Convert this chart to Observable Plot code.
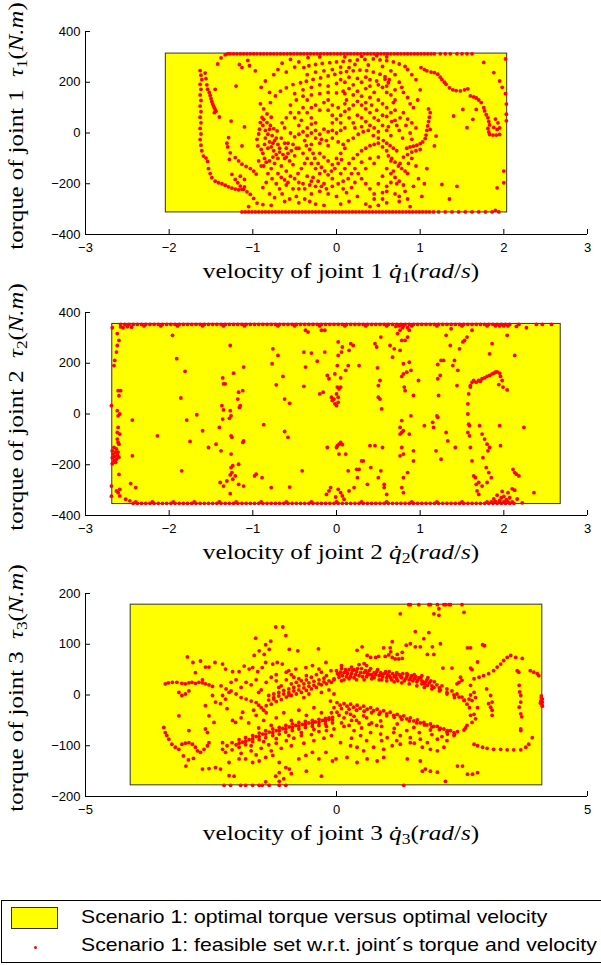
<!DOCTYPE html>
<html><head><meta charset="utf-8">
<script src="https://cdn.jsdelivr.net/npm/d3@7"></script>
<script src="https://cdn.jsdelivr.net/npm/@observablehq/plot@0.6"></script>
<style>
html,body{margin:0;padding:0;background:#fff;}
body{width:601px;height:965px;overflow:hidden;position:relative;font-family:"Liberation Sans",Arial,sans-serif;}
.panel{position:absolute;left:0;width:601px;height:300px;}
.panel svg{position:absolute;left:0;top:0;}
.xlab,.ylab{position:absolute;font-family:"Liberation Serif","DejaVu Serif",serif;font-size:21px;line-height:24px;white-space:nowrap;color:#000;}
.xlab{left:341px;top:259px;transform:translateX(-50%) scaleX(1.2);}
.ylab{left:16px;top:126px;transform:translate(-50%,-50%) rotate(-90deg) scaleX(1.18);}
sub{font-size:70%;vertical-align:-0.25em;line-height:0;}
#legend{position:absolute;left:1px;top:900px;width:640px;height:61px;border:1px solid #000;background:#fff;}
#legend .sw{position:absolute;left:9px;top:6px;width:45px;height:20px;background:#ffff00;border:1px solid #333;}
#legend .dot{position:absolute;left:32px;top:45px;width:3px;height:3px;border-radius:50%;background:#f00;}
#legend .t{position:absolute;left:79px;font-size:19px;white-space:nowrap;color:#000;transform:scaleX(1.115);transform-origin:left center;}
</style>
</head><body>
<div id="p1" class="panel" style="top:0px"></div>
<div id="p2" class="panel" style="top:281px"></div>
<div id="p3" class="panel" style="top:562px"></div>
<div id="legend"></div>
<script>
// ---------- axes / ticks ----------
const velTicks12 = [-3, -2, -1, 0, 1, 2, 3];
const torTicks12 = [-400, -200, 0, 200, 400];
const velTicks3 = [-5, 0, 5];
const torTicks3 = [-200, -100, 0, 100, 200];

// ---------- optimal torque vs optimal velocity (yellow boxes) ----------
const optVel1 = [-2.04, 2.04], optTor1 = [-313, 313];
const optVel2 = [-2.68, 2.68], optTor2 = [-355, 355];
const optVel3 = [-4.10, 4.10], optTor3 = [-178, 178];

// ---------- feasible set, joint 1: [velocity, torque] ----------
const topEdge1Vel = [-1.30,-1.27,-1.23,-1.19,-1.15,-1.11,-1.07,-1.03,-0.99,-0.95,-0.91,-0.87,-0.83,-0.79,-0.75,-0.71,-0.67,-0.63,-0.59,-0.55,-0.51,-0.47,-0.43,-0.39,-0.35,-0.31,-0.27,-0.23,-0.19,-0.15,-0.11,-0.07,-0.03,0.01,0.05,0.09,0.13,0.17,0.21,0.25,0.29,0.33,0.37,0.41,0.45,0.49,0.53,0.57,0.61,0.65,0.69,0.73,0.77,0.81,0.85,0.89,0.93,0.97,1.01,1.05,1.09,1.13,1.17,1.24,1.30,1.36,1.44,1.50,1.56,1.62];
const topEdge1Tor = 312;
const botEdge1Vel = [-1.13,-1.09,-1.05,-1.01,-0.97,-0.93,-0.89,-0.85,-0.81,-0.77,-0.73,-0.69,-0.65,-0.61,-0.57,-0.53,-0.49,-0.45,-0.41,-0.37,-0.33,-0.29,-0.25,-0.21,-0.17,-0.13,-0.09,-0.05,-0.01,0.03,0.07,0.11,0.15,0.19,0.23,0.27,0.31,0.35,0.39,0.43,0.47,0.51,0.55,0.59,0.63,0.67,0.71,0.75,0.79,0.83,0.87,0.91,0.95,0.99,1.03,1.07,1.11,1.16,1.22,1.30,1.38,1.46,1.54,1.62,1.70,1.78,1.86,1.94];
const botEdge1Tor = -311;
const feasible1 = [
[-1.42,272],[-1.38,296],[-1.33,308],
[-1.63,246],[-1.62,228],[-1.61,210],[-1.63,192],[-1.62,172],[-1.63,150],[-1.62,128],[-1.63,106],[-1.62,84],[-1.63,62],[-1.62,40],[-1.63,18],[-1.62,-4],[-1.63,-26],[-1.62,-48],[-1.61,-70],[-1.59,-91],[-1.56,-99],[-1.54,-112],
[-1.57,236],[-1.56,214],[-1.55,190],[-1.54,172],[-1.52,160],[-1.51,148],[-1.50,135],[-1.49,124],[-1.48,114],[-1.47,106],[-1.46,99],[-1.45,92],[-1.44,86],[-1.46,80],
[-1.53,-140],[-1.51,-160],[-1.49,-176],[-1.45,-190],[-1.41,-196],[-1.37,-200],[-1.33,-206],[-1.29,-212],[-1.25,-217],[-1.21,-221],[-1.17,-224],[-1.13,-222],[-1.10,-212],
[-1.45,172],[-1.26,47],[-1.10,24],[-1.13,-51],[-1.40,63],
[-1.29,-18],[-1.31,-40],[-1.30,-55],[-1.27,-78],[-1.28,-104],
[-1.21,-97],[-1.17,-110],[-1.13,-123],[-1.08,-132],[-1.03,-140],[-0.99,-150],[-0.96,-162],
[-1.25,-163],[-1.21,-183],[-1.18,-196],[-1.15,-209],[-1.11,-222],[-1.07,-232],
[-1.15,-170],[-1.10,-183],[-1.03,-242],[-0.99,-258],[-0.95,-276],
[-1.16,270],[-1.13,258],[-1.06,286],[-1.04,265],[-0.97,245],[-1.20,185],[-1.05,-290],[-0.88,-282],[-0.78,-285],
[1.01,258],[1.05,250],[1.08,245],[1.13,240],[1.17,238],[1.21,232],[1.24,220],[1.26,210],[1.29,200],[1.31,192],[1.35,178],[1.39,170],[1.43,167],[1.48,166],[1.53,170],[1.57,174],
[1.60,146],[1.64,142],[1.67,138],[1.70,130],[1.73,120],[1.76,100],[1.77,87],[1.79,72],[1.81,60],[1.82,45],[1.83,32],[1.81,18],[1.82,4],[1.83,-6],[1.87,-8],[1.91,-8],[1.95,-6],[1.88,22],[1.92,14],[1.95,20],[1.93,40],[1.90,55],
[1.95,205],[1.98,180],[2.02,155],[2.03,114],[2.03,74],[2.03,48],[2.02,292],[1.88,238],[1.76,278],[1.67,93],[1.63,54],[1.56,21],[1.40,67],[1.51,93],[2.00,-150],[2.00,-196],[1.92,-216],[1.26,-203],[1.19,-12],[1.12,14],[1.17,-51],[1.44,-210],[1.35,-260],[1.90,-305],
[1.10,95],[1.12,80],[1.11,62],[1.10,45],[1.09,28],[1.08,10],[1.07,-8],[1.06,-22],[1.03,-35],[1.00,-42],[0.96,-48],[0.92,-52],[0.88,-55],[0.84,-60],
[0.95,210],[0.90,230],[0.85,250],[1.00,170],[0.97,130],[0.92,100],[0.88,115],[0.85,140],[0.80,160],[0.78,180],[0.90,-100],[0.95,-130],[0.85,-160],[0.98,-180],[0.92,-210],[0.82,-230],[1.02,-250],[0.75,-270],[0.88,-290],[1.05,-200],[1.08,-140],[0.72,-200],[0.68,-150],[0.76,-120],[0.80,-95],[0.72,-70],[0.79,-20],[0.75,10],[0.83,30],[0.76,60],[0.70,90],[0.80,80],[0.70,130],
[-0.79,120],[-0.73,146],[-0.67,165],[-0.60,178],[-0.52,191],[-0.43,198],[-0.36,204],[-0.28,211],[-0.19,217],[-0.10,225],[-0.02,231],[0.05,238],[0.12,242],[0.20,245],[0.28,248],[0.36,246],[0.44,240],[0.52,232],[0.58,222],[0.63,210],
[-0.39,258],[-0.33,265],[-0.25,270],[-0.17,274],[-0.08,277],[0.00,280],[0.08,282],[0.16,285],[0.25,288],[0.34,290],[0.44,292],[0.52,288],[0.60,285],[0.68,280],[0.75,272],[0.82,262],
[-0.34,297],[-0.20,300],[0.10,300],[0.30,302],[0.48,304],[0.60,300],[0.22,270],[0.38,268],[0.55,262],
[0.48,205],[0.50,190],[0.55,180],[0.60,185],[0.62,198],[0.58,212],
[-0.55,110],[-0.48,130],[-0.40,145],[-0.30,150],[-0.20,155],[-0.10,160],[0.00,158],[0.10,155],[0.20,150],[0.30,145],[0.40,140],[0.50,130],[0.55,115],[0.60,100],
[-0.91,115],[-0.87,95],[-0.83,75],[-0.78,62],
[-0.89,61],[-0.91,41],[-0.92,15],[-0.93,-4],[-0.95,-25],[-0.94,-51],
[-0.87,54],[-0.83,41],[-0.79,30],[-0.75,17],[-0.71,8],
[-0.85,-20],[-0.80,-35],[-0.78,-55],[-0.75,-70],[-0.72,-85],[-0.70,-100],[-0.74,-120],[-0.78,-140],[-0.82,-160],[-0.77,-180],[-0.72,-200],[-0.68,-220],[-0.65,-240],
[-0.88,-80],[-0.86,-100],[-0.84,-115],[-0.90,-130],[-0.93,-110],
[-0.66,-20],[-0.62,-40],[-0.60,-60],[-0.58,-80],[-0.62,-100],[-0.66,-130],[-0.60,-150],[-0.55,-170],[-0.58,-195],[-0.52,-220],[-0.56,-260],
[-0.65,40],[-0.60,60],[-0.55,80],[-0.62,20],[-0.55,0],[-0.50,-15],
[-0.45,-5],[-0.40,5],[-0.35,-10],[-0.30,0],[-0.25,10],[-0.20,-5],[-0.15,15],[-0.10,5],[-0.05,10],[0.00,0],[0.05,10],[0.10,20],
[-0.05,40],[0.00,55],[0.05,70],[0.10,85],[0.15,95],[0.20,110],[0.25,70],[0.30,60],[0.35,45],[0.40,30],[0.45,20],[0.50,5],
[0.15,60],[0.20,40],[0.22,20],[0.30,25],
[-0.45,-60],[-0.40,-80],[-0.35,-100],[-0.30,-120],[-0.25,-140],[-0.20,-160],[-0.35,-170],[-0.30,-190],[-0.25,-210],[-0.40,-200],[-0.45,-220],[-0.20,-230],[-0.10,-240],[0.00,-250],[-0.30,-240],[-0.15,-200],[-0.05,-180],[0.05,-160],[0.10,-140],[0.15,-120],[0.20,-100],[0.25,-85],[0.30,-70],[0.35,-60],[0.40,-50],[0.45,-45],[0.50,-40],[0.55,-55],[0.60,-70],
[-0.20,-80],[-0.15,-95],[-0.10,-110],[-0.05,-125],[0.00,-100],[0.05,-80],[0.10,-60],[-0.10,-50],[-0.20,-40],[-0.30,-45],
[0.30,-180],[0.35,-200],[0.40,-220],[0.45,-240],[0.50,-200],[0.55,-170],[0.60,-140],[0.65,-110],[0.25,-250],[0.15,-270],[0.05,-280],[-0.15,-285],[0.35,-280],[0.55,-260],[0.60,-230],
[0.40,-100],[0.45,-120],[0.50,-95],[0.35,-140],[0.30,-115],
[0.50,50],[0.55,30],[0.60,10],[0.65,-10],[0.55,70],[0.48,90],[0.42,110],[0.35,120],[0.25,125],
[-0.30,60],[-0.35,80],[-0.40,100],[-0.25,40],[-0.20,90],[-0.15,120],[-0.10,90],
[-0.88,30],[-0.85,10],[-0.82,-5],[-0.80,15],[-0.77,-10],[-0.74,-30],[-0.70,-45],[-0.68,-60],[-0.72,-20],[-0.76,-40],[-0.82,-60],[-0.86,-45],[-0.90,-65],[-0.87,-130],[-0.80,-110],[-0.76,-95],[-0.68,-75],[-0.64,-85],[-0.60,-95],[-0.56,-110],[-0.52,-125],[-0.50,-90],[-0.54,-70],[-0.58,-40],[-0.52,-45],[-0.48,-60],[-0.70,-160],[-0.66,-175],[-0.62,-185],[-0.60,-205],[-0.84,-195],[-0.88,-215],[-0.80,-240],[-0.74,-255],[-0.62,-270],[-0.48,-250],[-0.45,-275],[-0.38,-260],[-0.32,-270],[-0.25,-280],
[-0.45,30],[-0.42,50],[-0.38,-30],[-0.36,-50],[-0.32,-65],[-0.28,-80],[-0.26,-100],[-0.22,-120],[-0.18,-135],[-0.14,-150],[-0.10,-165],[-0.06,-150],[-0.02,-140],[0.02,-120],[0.06,-105],[-0.38,-120],[-0.42,-140],[-0.46,-160],[-0.50,-180],[-0.45,-195],[-0.38,-220],[-0.32,-205],[-0.28,-175],[-0.22,-190],[-0.18,-210],[-0.12,-220],[-0.05,-210],[0.02,-200],[0.08,-220],[0.12,-235],[0.18,-215],[0.22,-195],[0.26,-160],[0.22,-140],[0.18,-160],[0.14,-180],[0.08,-190],
[-0.35,20],[-0.30,35],[-0.25,-20],[-0.18,-25],[-0.12,-30],[-0.05,-20],[0.02,-35],[0.08,-45],[0.14,-30],[0.20,-20],[0.26,-5],[0.32,5],[0.38,10],[0.44,-10],[0.50,-20],[0.56,-30],[0.60,-40],[0.64,-50],[0.68,-60],
[0.05,40],[0.10,115],[0.12,130],[0.02,100],[-0.05,110],[-0.10,130],[-0.25,110],[-0.30,100],[-0.35,130],[-0.45,80],[-0.50,60],[-0.05,70],[0.08,165],[0.15,175],[0.20,190],[0.30,200],[0.35,175],[0.40,185],[0.45,160],[0.25,165],[0.30,110],[0.40,80],[0.45,60],[0.35,95],
[0.62,-90],[0.66,-100],[0.70,-115],[0.74,-130],[0.78,-140],[0.82,-150],[0.86,-120],[0.90,-75],[0.85,-85],[0.95,-70],[1.00,-65],[0.65,-160],[0.70,-175],[0.75,-190],[0.80,-205],[0.65,-195],[0.60,-210],[0.55,-235],[0.45,-260],[0.70,-240],[0.75,-250],[0.85,-260],[0.60,-275],[0.50,-285],[0.40,-290],
[0.62,25],[0.66,45],[0.60,65],[0.65,80],[0.70,50],[0.72,30],[0.85,55],[0.90,40],[0.95,20],[0.88,0],[0.90,-25],[0.68,120],[0.65,150],[0.70,170],[0.60,160],[0.75,200],[0.70,230],[0.65,245],
[-0.70,250],[-0.60,240],[-0.50,260],[-0.45,280],[-0.55,290],[-0.65,275],[-0.75,230],[-0.85,205],[-0.80,160],[-0.90,180],[-0.35,230],[-0.25,240],[-0.15,245],[-0.05,250],[0.05,260],[0.15,258],[-0.20,190],[-0.10,185],[0.00,195],[0.10,200],[-0.30,180],[-0.40,170],[-0.50,155],[0.25,215],[0.35,220],[0.40,210],[0.15,220],[0.05,210]
];

// ---------- feasible set, joint 2 ----------
const topEdge2Vel = [-2.58,-2.53,-2.48,-2.43,-2.38,-2.33,-2.28,-2.23,-2.18,-2.13,-2.08,-2.03,-1.98,-1.93,-1.88,-1.83,-1.78,-1.73,-1.68,-1.63,-1.58,-1.53,-1.48,-1.43,-1.38,-1.33,-1.28,-1.23,-1.18,-1.13,-1.08,-1.03,-0.98,-0.93,-0.88,-0.83,-0.78,-0.73,-0.68,-0.63,-0.58,-0.53,-0.48,-0.43,-0.38,-0.33,-0.28,-0.23,-0.18,-0.13,-0.08,-0.03,0.02,0.07,0.12,0.17,0.22,0.27,0.32,0.37,0.42,0.47,0.52,0.57,0.62,0.67,0.72,0.77,0.82,0.87,0.92,0.97,1.02,1.07,1.12,1.17,1.22,1.27,1.32,1.37,1.42,1.47,1.52,1.57,1.62,1.67,1.72,1.77,1.82,1.87,1.92,1.97,2.02,2.07,2.18,2.39,2.46,2.57];
const topEdge2Tor = 353;
const topRow2Vel = [-2.50,-2.30,-2.10,-1.90,-1.60,-1.35,-1.10,-0.70,-0.50,-0.20,0.10,0.35,0.60,0.75,0.80,0.90,1.20,1.50,1.80,1.90,1.95,2.00,2.05];
const topRow2Tor = 347;
const botEdge2Vel = [-2.43,-2.38,-2.33,-2.28,-2.23,-2.18,-2.13,-2.08,-2.03,-1.98,-1.93,-1.88,-1.83,-1.78,-1.73,-1.68,-1.63,-1.58,-1.53,-1.48,-1.43,-1.38,-1.33,-1.28,-1.23,-1.18,-1.13,-1.08,-1.03,-0.98,-0.93,-0.88,-0.83,-0.78,-0.73,-0.68,-0.63,-0.58,-0.53,-0.48,-0.43,-0.38,-0.33,-0.28,-0.23,-0.18,-0.13,-0.08,-0.03,0.02,0.07,0.12,0.17,0.22,0.27,0.32,0.37,0.42,0.47,0.52,0.57,0.62,0.67,0.72,0.77,0.82,0.87,0.92,0.97,1.02,1.07,1.12,1.17,1.22,1.27,1.32,1.37,1.42,1.47,1.52,1.57,1.62,1.67,1.72,1.77,1.82,1.87,1.92,1.97,2.02,2.07,2.12];
const botEdge2Tor = -352;
const botRow2Vel = [-2.40,-2.20,-1.95,-1.70,-1.40,-1.20,-0.90,-0.60,-0.30,0.00,0.30,0.60,0.90,1.20,1.50,1.80,1.85,1.90,1.95,2.00,2.05,2.10];
const botRow2Tor = -346;
const feasible2 = [
[-2.58,343],[-2.55,340],[-2.50,344],[-2.45,342],[-2.62,317],[-2.60,290],[-2.62,270],[-2.63,244],[-2.65,211],[-2.66,191],[-2.68,340],
[-2.61,92],[-2.58,92],[-2.60,72],[-2.69,33],[-2.62,13],[-2.59,0],[-2.61,-7],
[-2.61,-53],[-2.62,-73],[-2.59,-79],[-2.62,-99],[-2.61,-112],[-2.60,-119],
[-2.66,-132],[-2.63,-138],[-2.68,-145],[-2.64,-150],[-2.67,-158],[-2.62,-162],[-2.65,-168],[-2.68,-172],[-2.63,-178],[-2.66,-184],[-2.64,-191],[-2.68,-196],[-2.61,-150],[-2.60,-170],
[-2.60,-238],[-2.69,-284],[-2.59,-297],[-2.61,-310],[-2.69,-324],
[-2.63,-303],[-2.59,-323],[-2.52,-336],[-2.47,-342],
[-1.96,310],[-1.91,218],[-1.81,168],[-1.86,63],[-1.79,-24],[-1.67,-3],[-1.75,-108],[-1.85,-224],[-2.14,-86],[-2.44,-24],[-2.44,-165],[-2.46,-274],[-2.40,-290],
[-1.27,270],[-1.36,142],[-1.35,119],[-1.33,119],[-1.37,33],[-1.35,16],[-1.36,-20],[-1.40,-53],[-1.44,-119],[-1.38,-145],[-1.28,-17],[-1.26,-7],[-1.27,13],[-1.25,-92],[-1.26,-86],[-1.26,-158],[-1.24,-204],[-1.26,-211],[-1.25,-231],[-1.27,-240],[-1.21,-244],[-1.24,-257],[-1.31,-264],[-1.39,-270],[-1.35,-284],[-1.27,-314],[-1.17,-198],[-1.17,-277],[-1.11,-284],[-1.23,161],[-1.18,59],[-1.17,86],[-1.12,92],[-1.15,33],[-1.16,26],[-1.11,-106],[-1.12,-112],[-1.11,185],[-1.53,-132],[-1.60,-66],
[-0.98,-244],[-0.96,-237],[-0.89,-251],[-0.87,-42],[-0.76,257],[-0.70,231],[-0.77,198],[-0.72,115],[-0.78,-290],[-0.62,59],[-0.56,42],[-0.62,-69],[-0.58,-92],[-0.56,-288],[-0.64,148],
[-0.41,-224],[-0.39,109],[-0.37,185],[-0.39,244],[-0.34,323],[-0.37,330],[-0.30,240],[-0.23,208],[-0.20,79],[-0.16,86],[-0.14,330],[-0.14,244],[-0.11,152],[-0.09,139],[-0.11,-132],[-0.12,-317],[-0.09,-303],[-0.07,-290],[-0.18,330],
[-0.06,66],[-0.05,53],[-0.03,59],[-0.02,40],[0.00,33],[0.02,46],[0.02,66],[0.00,79],[0.03,99],[0.01,106],[0.05,106],[-0.02,158],[0.05,142],[0.01,191],[0.02,231],[0.06,244],[0.07,264],[0.02,284],
[0.03,-119],[0.01,-125],[0.07,-121],[0.05,-112],[0.00,-132],[0.03,-158],[0.11,-158],[0.14,-224],[0.02,-297],[0.05,-310],[0.07,-323],[-0.01,-327],[0.09,-336],[0.15,-303],[0.21,-290],
[0.11,172],[0.14,191],[0.17,277],[0.15,251],[0.20,270],[0.27,191],[0.30,-185],[0.32,-185],[0.27,-218],[0.24,-218],[0.25,-251],[0.37,-277],[0.40,-125],[0.46,-125],[0.41,-211],
[0.46,277],[0.48,264],[0.49,182],[0.50,112],[0.52,132],[0.50,66],[0.52,59],[0.54,20],[0.55,-132],[0.53,-224],[0.50,-251],[0.57,-290],[0.60,-317],[0.57,-277],[0.53,303],[0.64,270],[0.69,257],
[0.78,-290],[0.80,-251],[0.80,-310],[0.76,251],[0.67,224],[0.73,317],[0.76,330],[0.71,345],[0.79,340],[0.85,340],[0.87,330],[0.78,290],[0.82,290],[0.85,303],[0.80,198],[0.78,148],[0.80,158],[0.84,165],[0.81,106],[0.82,92],
[0.78,-26],[0.76,-53],[0.78,-73],[0.80,-66],[0.76,-79],[0.78,-132],[0.80,-158],[0.76,-165],[0.87,-79],[0.89,-7],[0.87,204],[0.89,172],[0.92,-145],[0.92,-185],[0.85,-231],[0.92,73],[0.98,132],
[1.05,-46],[1.15,-33],[1.16,-53],[1.19,-145],[1.25,-178],[1.21,139],[1.24,152],[1.21,195],[1.25,211],[1.28,211],[1.20,-7],[1.21,-13],[1.22,73],[1.31,310],[1.37,336],[1.36,270],[1.39,191],[1.41,211],[1.44,112],[1.31,-73],[1.33,-106],[1.42,-132],[1.45,172],[1.47,257],[1.51,284],[1.53,290],[1.56,303],[1.62,330],
[1.60,106],[1.58,79],[1.57,40],[1.57,0],[1.58,-40],[1.59,-46],[1.57,-73],[1.59,-86],[1.60,-132],[1.62,-185],[1.64,-244],[1.66,-251],[1.67,-277],[1.70,-270],[1.68,-303],[1.70,-317],[1.74,-284],
[1.60,112],[1.62,125],[1.64,132],[1.67,125],[1.70,132],[1.72,129],[1.74,139],[1.77,142],[1.80,148],[1.83,152],[1.86,158],[1.88,161],[1.90,165],[1.92,166],[1.95,161],[1.96,148],[1.98,132],[1.99,106],[1.94,116],
[1.71,-46],[1.74,-79],[1.77,-99],[1.80,-119],[1.81,-145],[1.83,-132],[1.75,-172],[1.79,-211],[1.82,-231],[1.85,-251],[1.80,-270],[1.83,237],[1.86,277],[1.95,-46],[1.96,-125],[2.04,95],[2.04,310],[2.13,231],[2.24,-53],[2.11,-218],[2.13,-231],[2.15,-237],[2.18,-244],[2.36,-310],[2.15,345],[2.27,340],
[1.88,-335],[1.92,-320],[1.95,-340],[1.98,-305],[2.00,-325],[2.02,-345],[2.05,-310],[2.07,-330],[2.10,-295],[2.13,-300],[2.16,-335],[2.22,-350],[1.90,-345],[1.97,-330],[2.03,-338]
];

// ---------- feasible set, joint 3 ----------
const topEdge3Vel = [1.44,1.47,1.64,1.84,1.87,2.01,2.14,2.17,2.24,2.27,2.50];
const topEdge3Tor = 178;
const botEdge3Vel = [-2.24,-2.11,-1.91,-1.81,-1.67,-1.54,-1.48,-1.34,-1.14,-1.01,1.34];
const botEdge3Tor = -178;
const feasible3 = [
[-3.41,22],[-3.35,24],[-3.27,25],[-3.18,25],[-3.08,23],[-3.01,22],[-2.94,24],[-2.88,25],[-2.81,23],[-2.74,25],[-2.67,24],[-2.61,22],[-2.54,20],[-2.47,17],
[-3.14,5],[-3.08,-1],[-3.01,2],[-2.94,8],
[-3.44,-64],[-3.41,-74],[-3.38,-80],[-3.34,-87],[-3.28,-97],[-3.21,-103],[-3.14,-107],[-3.08,-97],[-3.01,-95],[-2.94,-94],[-2.87,-97],[-2.81,-103],[-2.77,-110],[-2.71,-113],[-2.64,-107],[-2.57,-100],[-2.54,-94],
[-3.05,-120],[-2.95,-128],[-2.85,-125],[-3.00,-140],[-2.67,-146],[-2.54,-145],[-2.41,-143],[-2.31,-146],[-2.14,-159],[-2.04,-160],[-2.14,-133],[-1.94,-126],[-1.81,-126],[-1.67,-133],[-1.54,-130],[-1.41,-123],[-1.27,-119],[-1.14,-133],[-1.01,-143],[-1.14,-153],[-0.94,-146],[-0.75,-126],[-0.61,-119],[-0.48,-113],[-0.35,-126],[-0.21,-113],[-0.08,-130],
[-3.14,-41],[-2.94,-70],[-2.61,-21],[-2.54,-41],[-2.41,-14],[-2.31,-17],[-2.21,-8],[-2.27,-1],[-2.14,5],[-2.47,-1],[-2.18,-27],[-2.07,-50],[-2.01,-54],[-1.87,-34],[-2.61,-67],[-2.57,-74],[-2.44,-54],[-2.27,-94],
[-1.21,134],[-1.61,112],[-1.31,106],[-1.41,99],[-1.01,117],[-0.36,91],[-1.64,78],[-1.54,87],[-1.44,80],[-1.34,90],[-0.94,90],[-0.77,87],[-2.97,75],[-2.86,64],[-2.71,67],[-2.61,55],[-2.54,55],[-2.42,64],[-2.27,61],[-2.21,51],[-2.07,46],[-1.94,46],[-1.84,57],[-1.74,51],[-1.67,54],[-1.57,46],[-1.48,54],[-1.41,64],[-1.27,61],[-1.18,64],[-1.08,61],[-0.95,48],[-0.81,51],[-0.75,32],[-0.61,54],[-0.48,58],[-0.35,51],[-0.21,64],[-0.11,48],[-2.81,44],[-2.67,30],[-1.07,134],
[-2.30,18],[-2.20,12],[-2.10,8],[-2.00,2],[-1.90,-5],[-1.80,-8],[-1.70,-12],[-1.60,-15],[-1.55,-20],[-1.50,-25],[-1.45,-30],[-1.40,-21],[-1.30,-18],[-1.20,-13],[-1.10,-9],[-1.00,-4],[-0.90,-1],[-0.80,2],[-0.70,5],[-0.60,9],[-0.50,12],[-0.40,15],[-0.30,20],[-0.20,22],[-0.10,25],
[-1.35,-1],[-1.25,2],[-1.15,5],[-1.05,9],[-0.95,12],[-0.85,15],[-0.75,18],[-0.65,22],[-0.55,24],[-0.45,27],[-0.35,30],[-0.25,33],
[-1.50,10],[-1.40,25],[-1.30,35],[-1.20,28],[-1.10,18],[-1.00,30],[-0.90,22],[-0.85,35],[-0.70,28],[-0.60,38],[-0.50,35],[-1.60,30],[-1.70,20],[-1.80,25],[-1.90,15],[-2.00,30],[-2.10,25],[-1.55,5],[-1.25,-8],[-1.15,15],[-0.95,0],[-0.65,-5],[-0.55,2],[-0.30,5],[-0.15,10],[-0.05,2],
[-0.95,5],[-0.85,8],[-0.75,10],[-0.65,14],[-0.55,17],[-0.45,19],[-0.35,22],[-0.25,26],[-0.15,28],[-0.05,32],[-1.05,2],[-1.15,-2],[-1.25,-5],[-1.35,-10],[-0.80,25],[-0.60,30],[-0.40,40],[-0.20,38],[-0.30,45],[-1.00,45],[-1.20,40],[-0.90,40],
[-1.90,-45],[-1.75,-55],[-1.60,-40],[-1.45,-50],[-1.30,-60],[-1.20,-45],[-1.05,-35],[-0.90,-50],[-0.75,-30],[-0.60,-40],[-0.45,-25],[-0.30,-35],[-0.15,-45],[-1.55,-65],[-1.65,-30],[-1.40,-35],
[-2.27,-107],[-2.18,-100],[-2.08,-94],[-1.94,-88],[-1.81,-84],[-1.67,-80],[-1.54,-75],[-1.41,-70],[-1.27,-67],[-1.14,-64],[-1.01,-60],[-0.88,-57],[-0.75,-54],[-0.62,-52],[-0.48,-50],[-0.35,-48],[-0.22,-46],[-0.08,-44],
[-2.21,-113],[-2.08,-108],[-1.94,-103],[-1.81,-98],[-1.67,-92],[-1.54,-88],[-1.41,-84],[-1.27,-80],[-1.14,-77],[-1.01,-73],[-0.88,-70],[-0.75,-67],[-0.62,-64],[-0.48,-62],[-0.35,-60],[-0.22,-57],[-0.08,-55],
[-2.00,-98],[-1.87,-93],[-1.74,-88],[-1.60,-82],[-1.47,-77],[-1.34,-73],[-1.20,-70],[-1.07,-66],[-0.94,-63],[-0.81,-60],[-0.68,-58],[-0.55,-55],[-0.42,-53],[-0.28,-50],[-0.15,-48],
[-1.94,-95],[-1.81,-91],[-1.67,-86],[-1.54,-82],[-1.41,-77],[-1.27,-74],[-1.14,-70],[-1.01,-67],[-0.88,-64],[-0.75,-61],[-0.62,-58],[-0.48,-56],[-0.35,-54],[-0.22,-51],[-0.08,-49],[-1.70,-100],[-1.45,-92],[-1.20,-86],[-0.95,-80],[-0.70,-74],[-0.45,-68],[-0.20,-62],
[-1.90,-115],[-1.70,-110],[-1.50,-105],[-1.35,-98],[-1.20,-95],[-1.00,-90],[-0.85,-85],[-0.70,-80],[-0.50,-78],[-0.35,-72],[-0.20,-70],[-1.60,-118],[-1.30,-110],[-1.10,-105],[-0.90,-100],[-0.65,-95],[-0.45,-90],[-0.25,-85],[-0.10,-80],
[-1.41,-171],[-1.14,-170],[-1.21,-160],[-1.05,-165],[-0.90,-155],[-0.60,-150],[-0.30,-160],
[1.27,160],[1.94,160],[2.04,157],[2.04,170],[2.54,163],
[1.57,125],[1.84,123],[1.11,105],[1.74,111],[1.47,101],[1.57,95],[1.67,95],[1.91,95],[2.07,101],[0.41,88],[0.51,95],[0.94,93],[1.07,93],[1.08,85],[1.21,80],[1.31,84],[1.39,98],[1.81,80],[1.94,80],[2.61,93],[2.67,93],[2.91,99],[2.95,97],[0.61,78],[0.68,74],[0.78,74],[0.84,76],[0.97,76],[1.04,79],[1.11,74],[1.17,71],[1.24,71],[1.31,72],[2.12,53],[2.30,53],[2.67,53],[2.70,50],[2.81,65],
[0.00,48],[0.05,40],[0.10,52],[0.15,44],[0.20,36],[0.25,50],[0.30,42],[0.35,34],[0.40,46],[0.45,38],[0.50,52],[0.55,44],[0.60,36],[0.65,48],[0.70,40],[0.75,34],[0.80,46],[0.85,38],[0.90,30],[0.95,42],[1.00,34],[1.05,38],[1.10,30],[1.15,36],[1.20,32],[1.25,40],[1.30,34],[1.35,28],[1.40,36],[1.45,30],[1.50,38],[1.55,32],[1.60,26],[1.65,34],[1.70,28],[1.75,22],[1.80,30],[1.85,24],[1.90,18],[1.95,26],[2.00,20],[2.05,14],[2.10,18],[2.20,12],[2.30,8],[2.40,2],[2.50,-4],[2.55,-10],
[0.02,42],[0.08,45],[0.12,38],[0.18,50],[0.22,42],[0.28,36],[0.32,48],[0.38,40],[0.42,52],[0.48,44],[0.52,36],[0.58,48],[0.62,42],[0.68,52],[0.72,36],[0.78,40],[0.82,50],[0.88,44],[0.92,36],[0.98,46],[1.02,40],[1.08,34],[1.12,42],[1.18,38],[1.22,28],[1.28,36],[1.32,42],[1.38,32],[1.42,40],[1.48,34],[1.52,28],[1.58,36],[1.62,30],[1.68,34],[1.72,26],[1.78,26],[1.82,34],[1.88,28],
[-0.05,30],[0.10,28],[0.25,32],[0.40,30],[0.55,30],[0.70,32],[0.85,30],[1.00,28],[1.15,26],[1.30,24],[1.45,22],[1.60,18],[1.75,15],[1.90,12],[2.05,8],[2.20,2],[2.35,-5],
[0.10,58],[0.30,55],[0.45,60],[0.60,58],[0.55,62],[0.20,45],[0.35,50],[0.65,40],[0.75,44],[0.90,40],[1.05,46],[1.20,44],[1.40,42],[1.55,40],[1.70,38],[0.05,35],[0.15,30],
[1.70,22],[1.81,19],[1.94,15],[2.07,10],[2.20,5],[2.34,0],[2.44,-4],[2.54,-11],[2.60,-18],[2.65,-25],
[-0.12,-12],[0.01,-15],[0.15,-17],[0.28,-18],[0.41,-20],[0.54,-22],[0.68,-25],[0.81,-28],[0.94,-31],[1.07,-34],[1.21,-38],[1.34,-41],[1.47,-45],[1.61,-49],[1.74,-54],[1.87,-57],[2.01,-62],[2.14,-67],[2.27,-70],[2.41,-72],[2.54,-69],
[-0.05,-25],[0.10,-27],[0.25,-28],[0.40,-30],[0.55,-32],[0.70,-35],[0.85,-38],[1.00,-41],[1.15,-44],[1.30,-48],[1.45,-51],[1.60,-55],[1.75,-59],[1.90,-63],[2.05,-68],[2.20,-73],[2.35,-78],
[0.07,-20],[0.21,-22],[0.34,-24],[0.47,-26],[0.61,-28],[0.74,-31],[0.87,-34],[1.00,-37],[1.14,-40],[1.27,-43],[1.40,-47],[1.54,-51],[1.67,-55],[1.80,-59],[1.94,-62],[2.07,-66],[2.21,-70],[2.34,-74],
[0.01,-34],[0.28,-38],[0.54,-41],[0.88,-51],[1.21,-57],[1.54,-64],[1.87,-69],[2.21,-77],[2.34,-80],
[0.15,-62],[0.40,-50],[0.65,-58],[0.90,-62],[1.15,-66],[1.40,-70],[1.65,-74],[1.90,-78],[2.10,-82],[0.30,-85],[0.60,-90],[0.90,-90],[1.20,-90],[1.55,-95],[2.20,-90],
[0.05,-40],[0.15,-45],[0.20,-35],[0.30,-50],[0.35,-42],[0.45,-55],[0.10,-55],[0.25,-60],[-0.10,-35],[0.60,-45],[0.70,-55],[0.80,-60],[0.50,-65],
[-0.05,-67],[0.35,-70],[0.48,-80],[0.68,-74],[0.88,-77],[1.01,-84],[1.14,-74],[1.27,-80],[1.47,-84],[1.67,-87],[1.81,-94],[2.01,-87],[0.08,-94],[0.28,-100],[0.41,-103],[0.54,-110],[0.74,-103],[0.94,-107],[1.11,-100],[1.27,-97],[1.47,-94],[1.71,-103],[1.87,-107],[2.01,-110],[2.14,-103],[-0.01,-126],[0.21,-123],[0.41,-133],[0.61,-126],[0.81,-130],[0.94,-123],[1.41,-126],[1.67,-130],[1.71,-150],[1.77,-146],[1.87,-150],[2.01,-152],[2.41,-140],[2.51,-140],[2.61,-156],[2.71,-156],[2.81,-153],[2.17,-170],
[2.74,32],[2.84,35],[2.93,38],[3.03,42],[3.13,48],[3.20,55],[3.27,61],[3.33,68],[3.40,74],[3.47,78],[3.57,74],[3.70,72],[3.86,48],[3.93,45],[4.00,42],[4.03,38],[3.63,45],[3.60,48],
[2.47,35],[2.44,25],[2.50,29],[2.40,22],[2.67,19],[2.74,5],[2.67,0],[2.64,-8],[2.70,-11],[2.77,-5],[2.81,-25],[2.74,-38],[2.67,-40],[2.77,-47],[2.70,-54],[2.60,-60],[2.57,-65],
[2.99,12],[3.07,-1],[3.10,-14],[3.03,-17],[3.07,-24],[3.10,-30],[3.10,-40],
[3.64,19],[3.65,6],[3.67,-1],[3.67,-14],[3.64,-24],[3.67,-37],[3.69,-43],[3.67,-67],[3.67,-70],
[4.08,-2],[4.10,-8],[4.07,-12],[4.09,-18],[4.10,-22],[4.06,-16],[4.08,-6],[4.10,-14],
[2.74,-97],[2.81,-100],[2.91,-103],[3.00,-105],[3.13,-107],[3.27,-107],[3.40,-108],[3.53,-108],[3.67,-108],[3.77,-103],[3.83,-97],[3.90,-84]
];

// ---------- labels ----------
const xLabels = ["velocity of joint 1 <i>q̇</i><sub>1</sub>(<i>rad</i>/<i>s</i>)",
                 "velocity of joint 2 <i>q̇</i><sub>2</sub>(<i>rad</i>/<i>s</i>)",
                 "velocity of joint 3 <i>q̇</i><sub>3</sub>(<i>rad</i>/<i>s</i>)"];
const yLabels = ["torque of joint 1 &nbsp;<i>τ</i><sub>1</sub>(<i>N.m</i>)",
                 "torque of joint 2 &nbsp;<i>τ</i><sub>2</sub>(<i>N.m</i>)",
                 "torque of joint 3 &nbsp;<i>τ</i><sub>3</sub>(<i>N.m</i>)"];
const legendLabels = ["Scenario 1: optimal torque versus optimal velocity",
                      "Scenario 1: feasible set w.r.t. joint´s torque and velocity"];

function edgePts(vels, tor) { return vels.map(v => [v, tor]); }
const fmt = d => (d < 0 ? "\u2212" : "") + Math.abs(d);

function panel(el, {pts, optVel, optTor, xdom, ydom, xticks, yticks, xlab, ylab}) {
  const W = 601, H = 265, mt = 31, mb = 31, ml = 85, mr = 14;
  const tlx = (xdom[1] - xdom[0]) * 5 / (W - ml - mr);
  const tly = (ydom[1] - ydom[0]) * 5 / (H - mt - mb);
  const box = [{v1: optVel[0], v2: optVel[1], t1: optTor[0], t2: optTor[1]}];
  const svg = Plot.plot({
    width: W, height: H, marginLeft: ml, marginRight: mr, marginTop: mt, marginBottom: mb,
    style: {background: "transparent", fontSize: "13px", fontFamily: "'Liberation Sans', Arial, sans-serif", color: "#000", overflow: "visible"},
    x: {domain: xdom, ticks: xticks, tickSize: 0, tickPadding: 8, label: null, tickFormat: fmt},
    y: {domain: ydom, ticks: yticks, tickSize: 0, tickPadding: 5, label: null, tickFormat: fmt},
    marks: [
      Plot.rect(box, {x1: "v1", x2: "v2", y1: "t1", y2: "t2", fill: "#ffff00", stroke: "#333", strokeWidth: 1}),
      Plot.dot(pts, {x: d => d[0], y: d => d[1], r: 1.9, fill: "#ff0000", stroke: null}),
      Plot.ruleY([ydom[0]], {stroke: "#000", strokeWidth: 1}),
      Plot.ruleX([xdom[0]], {stroke: "#000", strokeWidth: 1}),
      Plot.ruleX(xticks, {x: d => d, y1: () => ydom[0], y2: () => ydom[0] + tly, stroke: "#000"}),
      Plot.ruleY(yticks, {y: d => d, x1: () => xdom[0], x2: () => xdom[0] + tlx, stroke: "#000"})
    ]
  });
  el.appendChild(svg);
  const xl = document.createElement("div"); xl.className = "xlab"; xl.innerHTML = xlab; el.appendChild(xl);
  const yl = document.createElement("div"); yl.className = "ylab"; yl.innerHTML = ylab; el.appendChild(yl);
}

panel(document.getElementById("p1"), {
  pts: [...edgePts(topEdge1Vel, topEdge1Tor), ...edgePts(botEdge1Vel, botEdge1Tor), ...feasible1],
  optVel: optVel1, optTor: optTor1, xdom: [-3, 3], ydom: [-400, 400],
  xticks: velTicks12, yticks: torTicks12, xlab: xLabels[0], ylab: yLabels[0]});
panel(document.getElementById("p2"), {
  pts: [...edgePts(topEdge2Vel, topEdge2Tor), ...edgePts(topRow2Vel, topRow2Tor), ...edgePts(botEdge2Vel, botEdge2Tor), ...edgePts(botRow2Vel, botRow2Tor), ...feasible2],
  optVel: optVel2, optTor: optTor2, xdom: [-3, 3], ydom: [-400, 400],
  xticks: velTicks12, yticks: torTicks12, xlab: xLabels[1], ylab: yLabels[1]});
panel(document.getElementById("p3"), {
  pts: [...edgePts(topEdge3Vel, topEdge3Tor), ...edgePts(botEdge3Vel, botEdge3Tor), ...feasible3],
  optVel: optVel3, optTor: optTor3, xdom: [-5, 5], ydom: [-200, 200],
  xticks: velTicks3, yticks: torTicks3, xlab: xLabels[2], ylab: yLabels[2]});

const lg = document.getElementById("legend");
lg.innerHTML = `<div class="sw"></div><div class="t" style="top:5px">${legendLabels[0]}</div>` +
               `<div class="dot"></div><div class="t" style="top:33px">${legendLabels[1]}</div>`;
</script>
</body></html>
